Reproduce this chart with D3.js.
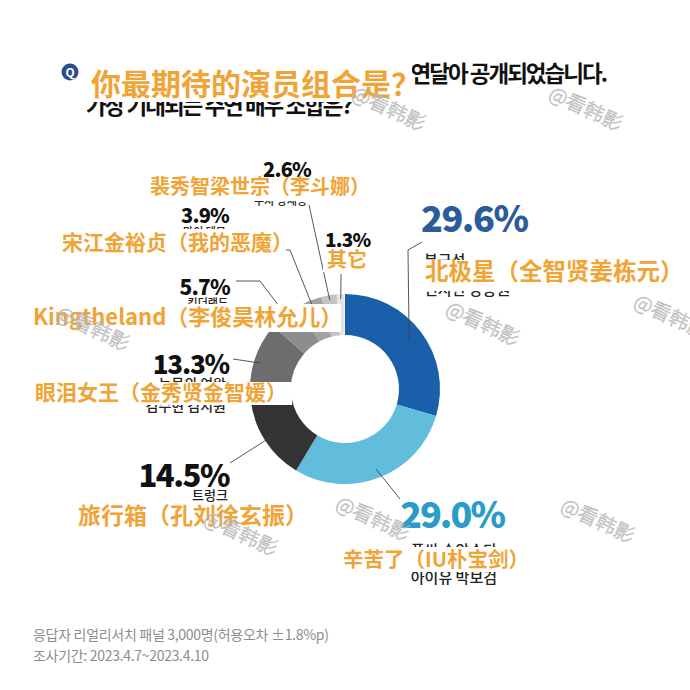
<!DOCTYPE html>
<html><head><meta charset="utf-8">
<script src="https://cdn.jsdelivr.net/npm/d3@7"></script>
<style>
html,body{margin:0;padding:0;background:#fff;}
svg{display:block;}
</style></head>
<body>
<svg id="chart" width="690" height="690"></svg>
<script>
// ---------- data ----------
const categories = ["북극성", "폭싹 속았수다", "트렁크", "눈물의 여왕", "킹더랜드", "마이 데몬", "이두나!", "기타"];
const actors = ["전지현 강동원", "아이유 박보검", "공유 서현진", "김수현 김지원", "이준호 임윤아", "송강 김유정", "수지 양세종", ""];
const zhLabels = ["北极星（全智贤姜栋元）", "辛苦了（IU朴宝剑）", "旅行箱（孔刘徐玄振）", "眼泪女王（金秀贤金智媛）", "Kingtheland（李俊昊林允儿）", "宋江金裕贞（我的恶魔）", "裴秀智梁世宗（李斗娜）", "其它"];
const values = [29.6, 29.0, 14.5, 13.3, 5.7, 3.9, 2.6, 1.3];
const titleKo1 = "드라마 기대작들의 주연 배우 라인업이 연달아 공개되었습니다.";
const titleKo2 = "가장 기대되는 주연 배우 조합은?";
const titleZh = "你最期待的演员组合是？";
const footer = ["응답자 리얼리서치 패널 3,000명(허용오차 ±1.8%p)", "조사기간: 2023.4.7~2023.4.10"];
const watermark = "@看韩影";

// ---------- styles / layout ----------
const colors = ["#1a5fa9", "#62bcdb", "#333333", "#6d6d70", "#8d8d8f", "#a3a3a3", "#c4c4c4", "#e4e4e4"];
const orange = "#f0a436";
const KR = "'Noto Sans CJK KR', 'Noto Sans CJK SC', sans-serif";
const SC = "'Noto Sans CJK SC', 'Noto Sans CJK KR', sans-serif";
const cx = 345, cy = 389, rOuter = 95, rInner = 54;

const layout = [
  {pct:[421,232], ps:36, ls:-1.5, anchor:"start", pc:"#2b5b98", kr:[424,266], ks:15, act:[424,295], zh:[425,280], zs:23.5, box:[420,260,270,31], line:[[422,242],[408,250]], r:80},
  {pct:[400,528], ps:36, ls:-2, anchor:"start", pc:"#2a9cc7", kr:[497,556], ks:15, kanchor:"end", act:[497,583], zh:[343,567], zs:20.5, box:[339,547,188,25], line:[[400,499]], r:86},
  {pct:[229,487], ps:31, ls:-1.5, anchor:"end", pc:"#111", kr:[228,500], ks:13, act:[228,518], zh:[78,524], zs:23, box:[74,503,232,28], line:[[230,463]], r:88},
  {pct:[229,374], ps:26, ls:-1.2, anchor:"end", pc:"#111", kr:[226,389], ks:14, act:[226,411], zh:[35,400], zs:21, box:[30,382,262,23], line:[[233,359]], r:88},
  {pct:[230,295], ps:21, ls:-0.8, anchor:"end", pc:"#111", kr:[228,307], ks:11, act:[228,330], zh:[33,325], zs:22, box:[29,304,312,28], line:[[236,281],[260,281]], r:92},
  {pct:[229,223], ps:20, ls:-0.8, anchor:"end", pc:"#111", kr:[226,236], ks:11, act:[280,252], zh:[62,250], zs:21, box:[58,229,228,27], line:[[283,250],[290,250]], r:90},
  {pct:[311,177], ps:20, ls:-0.8, anchor:"end", pc:"#111", kr:[307,193], ks:11, act:[307,205], zh:[150,194], zs:20, box:[145,179,216,22], line:[[309,205]], r:90},
  {pct:[325,247], ps:19, ls:-0.8, anchor:"start", pc:"#111", kr:[330,264], ks:12, act:[330,280], zh:[327,267], zs:20, box:[323,251,46,21], line:[[341,274]], r:90}
];
const wmPos = [[388,110],[585,110],[670,318],[482,325],[92,330],[240,535],[372,520],[597,522]];

// ---------- drawing ----------
const svg = d3.select("#chart");
svg.append("rect").attr("width",690).attr("height",690).attr("fill","#fff");

// title
svg.append("circle").attr("cx",70).attr("cy",72).attr("r",8.5).attr("fill","#2c4f8c");
svg.append("text").attr("x",70).attr("y",76.5).attr("text-anchor","middle")
  .attr("font-family",KR).attr("font-weight",700).attr("font-size",12).attr("fill","#fff").text("Q");
svg.append("text").attr("x",606).attr("y",82).attr("text-anchor","end")
  .attr("font-family",KR).attr("font-weight",700).attr("font-size",22.5).attr("letter-spacing",-2)
  .attr("fill","#111").text(titleKo1);
svg.append("text").attr("x",86).attr("y",114)
  .attr("font-family",KR).attr("font-weight",700).attr("font-size",22.5).attr("letter-spacing",-2)
  .attr("fill","#111").text(titleKo2);

// donut
const total = d3.sum(values);
const pie = d3.pie().sort(null).startAngle(0).endAngle(2*Math.PI*total/100);
const arcs = pie(values);
const arc = d3.arc().innerRadius(rInner).outerRadius(rOuter);
const g = svg.append("g").attr("transform",`translate(${cx},${cy})`);
g.selectAll("path").data(arcs).join("path")
  .attr("d",arc).attr("fill",(d,i)=>colors[i]);

// leader lines
const ptOn = (a,r)=>{const m=(a.startAngle+a.endAngle)/2; return [cx+r*Math.sin(m), cy-r*Math.cos(m)];};
const lineGen = d3.line();
arcs.forEach((a,i)=>{
  const L = layout[i];
  const pts = L.line.concat([ptOn(a,L.r)]);
  svg.append("path").attr("d",lineGen(pts)).attr("fill","none")
    .attr("stroke","#444").attr("stroke-width",0.9);
});

// labels
arcs.forEach((a,i)=>{
  const L = layout[i];
  svg.append("text").attr("x",L.pct[0]).attr("y",L.pct[1]).attr("text-anchor",L.anchor)
    .attr("font-family",KR).attr("font-weight",900).attr("font-size",L.ps)
    .attr("letter-spacing",L.ls).attr("fill",L.pc).text(values[i].toFixed(1)+"%");
  const ka = L.kanchor || L.anchor;
  svg.append("text").attr("x",L.kr[0]).attr("y",L.kr[1]).attr("text-anchor",ka)
    .attr("font-family",KR).attr("font-weight",500).attr("font-size",L.ks).attr("fill","#222").text(categories[i]);
  if (actors[i]) svg.append("text").attr("x",L.act[0]).attr("y",L.act[1]).attr("text-anchor",ka)
    .attr("font-family",KR).attr("font-weight",500).attr("font-size",L.ks).attr("fill","#222").text(actors[i]);
});

// chinese overlay boxes
svg.append("rect").attr("x",86).attr("y",61).attr("width",326).attr("height",41).attr("fill","#fff");
svg.append("text").attr("x",91).attr("y",95).attr("font-family",SC).attr("font-weight",700)
  .attr("font-size",30).attr("fill",orange).text(titleZh);
arcs.forEach((a,i)=>{
  const L = layout[i];
  svg.append("rect").attr("x",L.box[0]).attr("y",L.box[1]).attr("width",L.box[2]).attr("height",L.box[3]).attr("fill","#fff");
  svg.append("text").attr("x",L.zh[0]).attr("y",L.zh[1]).attr("font-family",SC).attr("font-weight",700)
    .attr("font-size",L.zs).attr("fill",orange).text(zhLabels[i]);
});

// footer
footer.forEach((t,i)=>{
  svg.append("text").attr("x",33).attr("y",640+i*21).attr("font-family",KR).attr("font-weight",400)
    .attr("font-size",14).attr("letter-spacing",-0.3).attr("fill","#8d8d8d").text(t);
});

// watermarks
wmPos.forEach(p=>{
  svg.append("text").attr("transform",`translate(${p[0]},${p[1]}) rotate(25)`)
    .attr("text-anchor","middle").attr("dominant-baseline","middle")
    .attr("font-family",SC).attr("font-weight",300).attr("font-size",20).attr("fill","#fff").attr("fill-opacity",0.4)
    .attr("stroke","#b0b0b0").attr("stroke-width",0.7).attr("stroke-opacity",0.85).text(watermark);
});
</script>
</body></html>
